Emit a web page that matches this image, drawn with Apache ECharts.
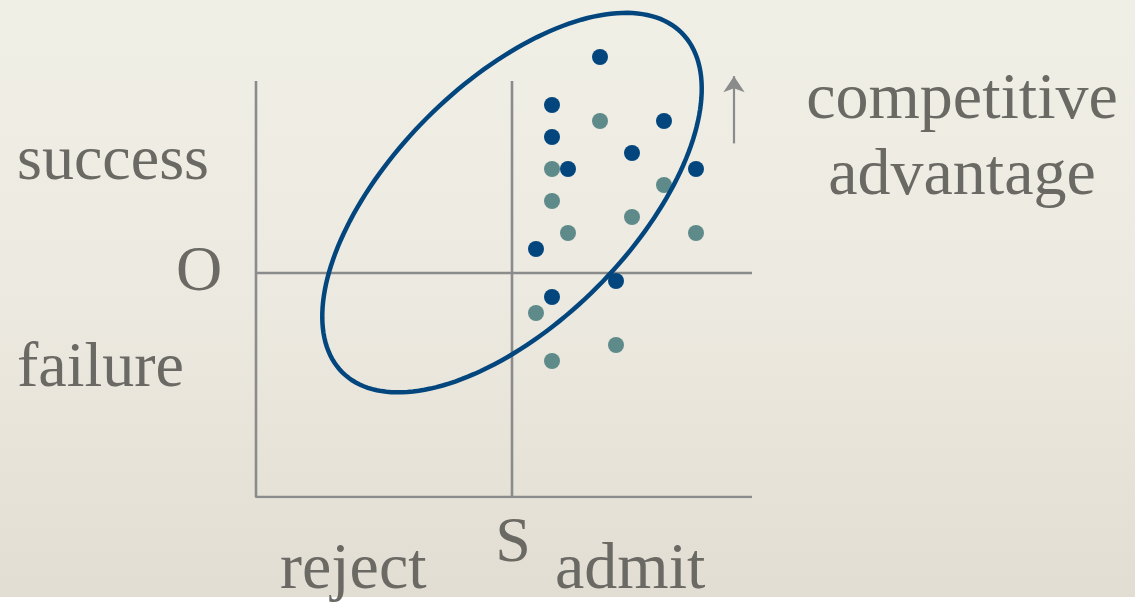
<!DOCTYPE html>
<html>
<head>
<meta charset="utf-8">
<script src="https://cdn.jsdelivr.net/npm/echarts@6/dist/echarts.min.js"></script>
<style>
  html, body { margin: 0; padding: 0; }
  #chart { width: 1135px; height: 608px; }
</style>
</head>
<body>
<div id="chart"></div>
<script>
// x measured from the S cut-off, y measured from the O line (one unit = one dot step)
const darkDots = [
  [5.5, 13.5], [2.5, 10.5], [9.5, 9.5], [2.5, 8.5], [7.5, 7.5],
  [3.5, 6.5], [11.5, 6.5], [1.5, 1.5], [6.5, -0.5], [2.5, -1.5]
]
const tealDots = [
  [5.5, 9.5], [2.5, 6.5], [9.5, 5.5], [2.5, 4.5], [7.5, 3.5],
  [3.5, 2.5], [11.5, 2.5], [1.5, -2.5], [6.5, -4.5], [2.5, -5.5]
]
// frame: left axis + bottom, the S line, the O line
const frameLeft = [[-16, 12], [-16, -14], [15, -14]]
const frameS = [[0, 12], [0, -14]]
const frameO = [[-16, 0], [15, 0]]
// ellipse: centre, semi axes, tilt in degrees
const ellipseCenter = [0, 4.4]
const ellipseAxes = [15, 7.5]
const ellipseAngle = 45
// competitive advantage arrow
const arrowCoords = [[13.875, 8.1], [13.875, 12.3]]

const textColor = '#6a6964'
const lineGray = '#8a8b8b'
const darkBlue = '#03467d'
const teal = '#5f8a8a'
const font = '64px "Liberation Serif", serif'
const fontWide = '66px "Liberation Serif", serif'

const chart = echarts.init(document.getElementById('chart'))

const frameSeries = (data) => ({
  type: 'line',
  data: data,
  symbol: 'none',
  silent: true,
  z: 1,
  lineStyle: { color: lineGray, width: 2.6 }
})

const txt = (text, x, y, align, f) => ({
  type: 'text',
  x: x,
  y: y,
  z: 10,
  silent: true,
  style: { text: text, font: f || font, fill: textColor, align: align || 'left', verticalAlign: 'middle' }
})

chart.setOption({
  animation: false,
  backgroundColor: new echarts.graphic.LinearGradient(0, 0, 0, 1, [
    { offset: 0, color: '#f0efe6' },
    { offset: 0.5, color: '#ece9e0' },
    { offset: 1, color: '#e2ddd2' }
  ]),
  grid: { left: 256, right: 383, top: 1, bottom: 111 },
  xAxis: { type: 'value', min: -16, max: 15, show: false },
  yAxis: { type: 'value', min: -14, max: 17, show: false },
  series: [
    frameSeries(frameLeft),
    frameSeries(frameS),
    frameSeries(frameO),
    {
      type: 'scatter',
      data: tealDots,
      symbolSize: 16,
      z: 2,
      itemStyle: { color: teal, opacity: 1 }
    },
    {
      type: 'custom',
      data: [ellipseCenter],
      z: 3,
      silent: true,
      clip: false,
      renderItem: (params, api) => {
        const cx = api.value(0)
        const cy = api.value(1)
        const th = (ellipseAngle * Math.PI) / 180
        const pts = []
        for (let d = 0; d < 360; d += 2) {
          const t = (d * Math.PI) / 180
          const u = ellipseAxes[0] * Math.cos(t)
          const v = ellipseAxes[1] * Math.sin(t)
          pts.push(api.coord([cx + u * Math.cos(th) - v * Math.sin(th), cy + u * Math.sin(th) + v * Math.cos(th)]))
        }
        return {
          type: 'polygon',
          shape: { points: pts },
          style: { fill: 'none', stroke: darkBlue, lineWidth: 4.5 }
        }
      }
    },
    {
      type: 'scatter',
      data: darkDots,
      symbolSize: 16,
      z: 4,
      itemStyle: { color: darkBlue, opacity: 1 }
    },
    {
      type: 'lines',
      coordinateSystem: 'cartesian2d',
      data: [{ coords: arrowCoords }],
      symbol: ['none', 'arrow'],
      symbolSize: [13, 16],
      silent: true,
      lineStyle: { color: lineGray, width: 2.2, opacity: 1 }
    }
  ],
  graphic: [
    // torn white paper edge at the bottom, under the labels
    {
      type: 'rect',
      z: 0,
      shape: { x: 0, y: 597, width: 1135, height: 11 },
      silent: true,
      style: { fill: '#ffffff' }
    },
    txt('success', 17, 162),
    txt('O', 199, 273, 'center'),
    txt('failure', 17, 369),
    txt('competitive', 962, 101, 'center', fontWide),
    txt('advantage', 962, 177, 'center', fontWide),
    txt('S', 513, 544, 'center'),
    txt('reject', 280, 571, 'left', fontWide),
    txt('admit', 555, 571, 'left', fontWide)
  ]
})
</script>
</body>
</html>
